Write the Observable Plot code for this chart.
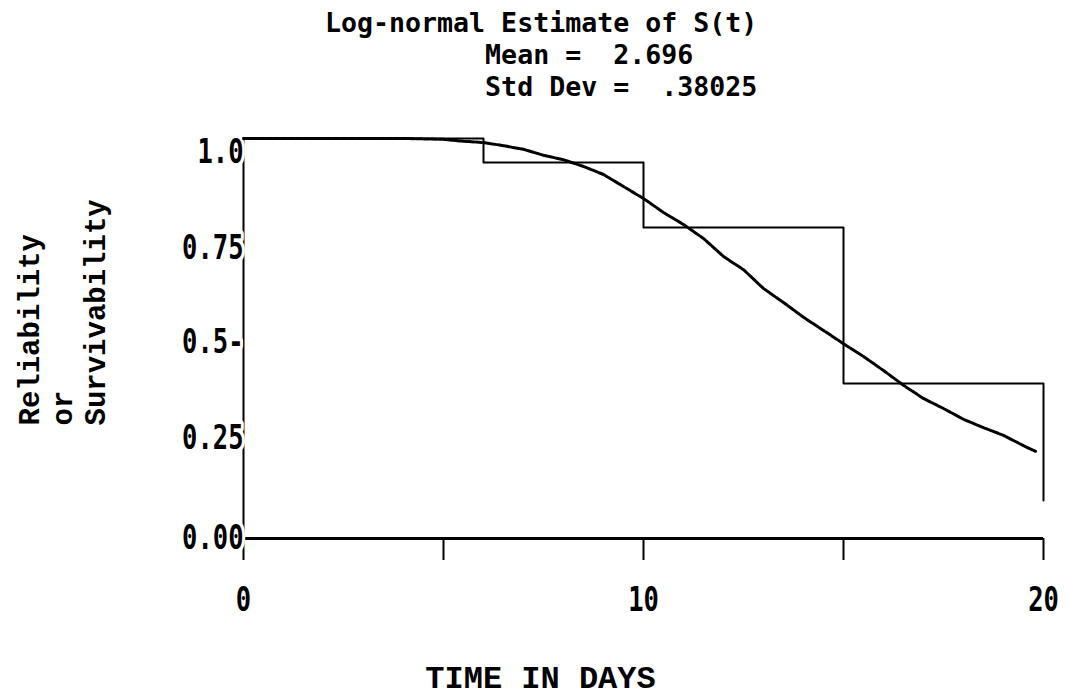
<!DOCTYPE html>
<html><head><meta charset="utf-8">
<script src="https://cdn.jsdelivr.net/npm/d3@7"></script>
<script src="https://cdn.jsdelivr.net/npm/@observablehq/plot@0.6"></script>
<style>
html,body{margin:0;padding:0;background:#fff;width:1068px;height:698px;overflow:hidden}
#title{height:110px;box-sizing:border-box;margin:0;padding-top:7px;padding-left:325px;font-family:"DejaVu Sans Mono";font-weight:bold;font-size:26.6px;line-height:32px;white-space:pre;color:#000}
#chart svg{display:block}
</style></head><body>
<pre id="title"></pre>
<div id="chart"></div>
<script>
// ---- data ----
const titleLines = ["Log-normal Estimate of S(t)", "          Mean =  2.696", "          Std Dev =  .38025"];
const xLabel = "TIME IN DAYS";
const yLabelLines = ["\u00A0\u00A0\u00A0Reliability\u00A0\u00A0", "\u00A0\u00A0\u00A0or\u00A0\u00A0\u00A0\u00A0\u00A0\u00A0\u00A0\u00A0\u00A0\u00A0\u00A0", "\u00A0\u00A0\u00A0Survivability"];

// empirical step estimate
const stepT = [0, 6, 10, 15, 20];
const stepS = [1.0, 0.94, 0.7775, 0.3875, 0.095];

// log-normal survival curve
const curveT = [0, 1, 2, 3, 4, 5, 5.5, 6, 6.5, 7, 7.5, 8, 8.5, 9, 9.5, 10, 10.5, 11, 11.5, 12, 12.5, 13, 13.5, 14, 14.5, 15, 15.5, 16, 16.5, 17, 17.5, 18, 18.5, 19, 19.5, 19.8];
const curveS = [1.0, 1.0, 1.0, 1.0, 1.0, 0.998, 0.993, 0.99, 0.982, 0.973, 0.958, 0.947, 0.93, 0.91, 0.88, 0.85, 0.815, 0.785, 0.75, 0.705, 0.672, 0.625, 0.59, 0.553, 0.52, 0.487, 0.455, 0.42, 0.383, 0.35, 0.325, 0.298, 0.277, 0.258, 0.232, 0.218];

// axis ticks
const xTickValues = [0, 5, 10, 15, 20];
const xTickLabels = ["0", "", "10", "", "20"];
const yTickValues = [0, 0.25, 0.49, 0.726, 0.965];
const yTickLabels = ["0.00", "0.25", "0.5-", "0.75", "1.0"];

document.getElementById("title").textContent = titleLines.join("\n");

const stepData = stepT.map((t, i) => ({t, s: stepS[i]}));
const curveData = curveT.map((t, i) => ({t, s: curveS[i]}));
const mono = "DejaVu Sans Mono";
const slab = "Liberation Mono";

const chart = Plot.plot({
  width: 1068, height: 588,
  marginLeft: 243, marginRight: 25, marginTop: 28, marginBottom: 160,
  style: {background: "#fff", color: "#000", overflow: "visible"},
  x: {domain: [0, 20]},
  y: {domain: [0, 1]},
  marks: [
    Plot.frame({anchor: "left", strokeWidth: 2}),
    Plot.ruleY([0], {strokeWidth: 3}),
    Plot.axisX({ticks: xTickValues, tickFormat: d => xTickLabels[xTickValues.indexOf(d)], tickSize: 22, tickPadding: 26, strokeWidth: 2, fontFamily: mono, fontWeight: "bold", fontSize: 34, label: null}),
    Plot.axisX({ticks: [], tickSize: 0, label: xLabel, labelAnchor: "center", labelArrow: "none", labelOffset: 149, fontFamily: slab, fontWeight: "bold", fontSize: 32}),
    Plot.axisY({ticks: yTickValues, tickFormat: d => yTickLabels[yTickValues.indexOf(d)], tickSize: 0, tickPadding: 0, fontFamily: mono, fontWeight: "bold", fontSize: 34, label: null}),
    Plot.axisY({ticks: [], tickSize: 0, label: yLabelLines.join("\n"), labelAnchor: "center", labelArrow: "none", labelOffset: 225, fontFamily: slab, fontWeight: "bold", fontSize: 29}),
    Plot.line(stepData, {x: "t", y: "s", curve: "step-after", strokeWidth: 2}),
    Plot.line(curveData, {x: "t", y: "s", strokeWidth: 3, strokeDasharray: "6 1.5"})
  ]
});
document.getElementById("chart").appendChild(chart);

// condensed look for the tick numerals, white backing for the y labels
function squeeze(t, s) {
  const tr = t.getAttribute("transform") || "";
  t.setAttribute("transform", `${tr} scale(${s},1)`);
}
d3.select(chart).selectAll('g[aria-label="x-axis tick label"] text').each(function() { squeeze(this, 0.75); });
d3.select(chart).selectAll('g[aria-label="y-axis tick label"] text').each(function() {
  squeeze(this, 0.75);
  d3.select(this).attr("stroke", "#fff").attr("stroke-width", 8).attr("paint-order", "stroke").attr("stroke-linejoin", "round");
});
// wider line spacing for the stacked y-axis title
d3.select(chart).selectAll('g[aria-label="y-axis label"] tspan').each(function() {
  if (this.hasAttribute("dy")) this.setAttribute("dy", "1.14em");
});
// the x-axis title sits centred on the page rather than on the frame
d3.select(chart).selectAll('g[aria-label="x-axis label"]').each(function() {
  const tr = this.getAttribute("transform") || "";
  this.setAttribute("transform", `translate(-103,0) ${tr}`);
});
</script></body></html>
